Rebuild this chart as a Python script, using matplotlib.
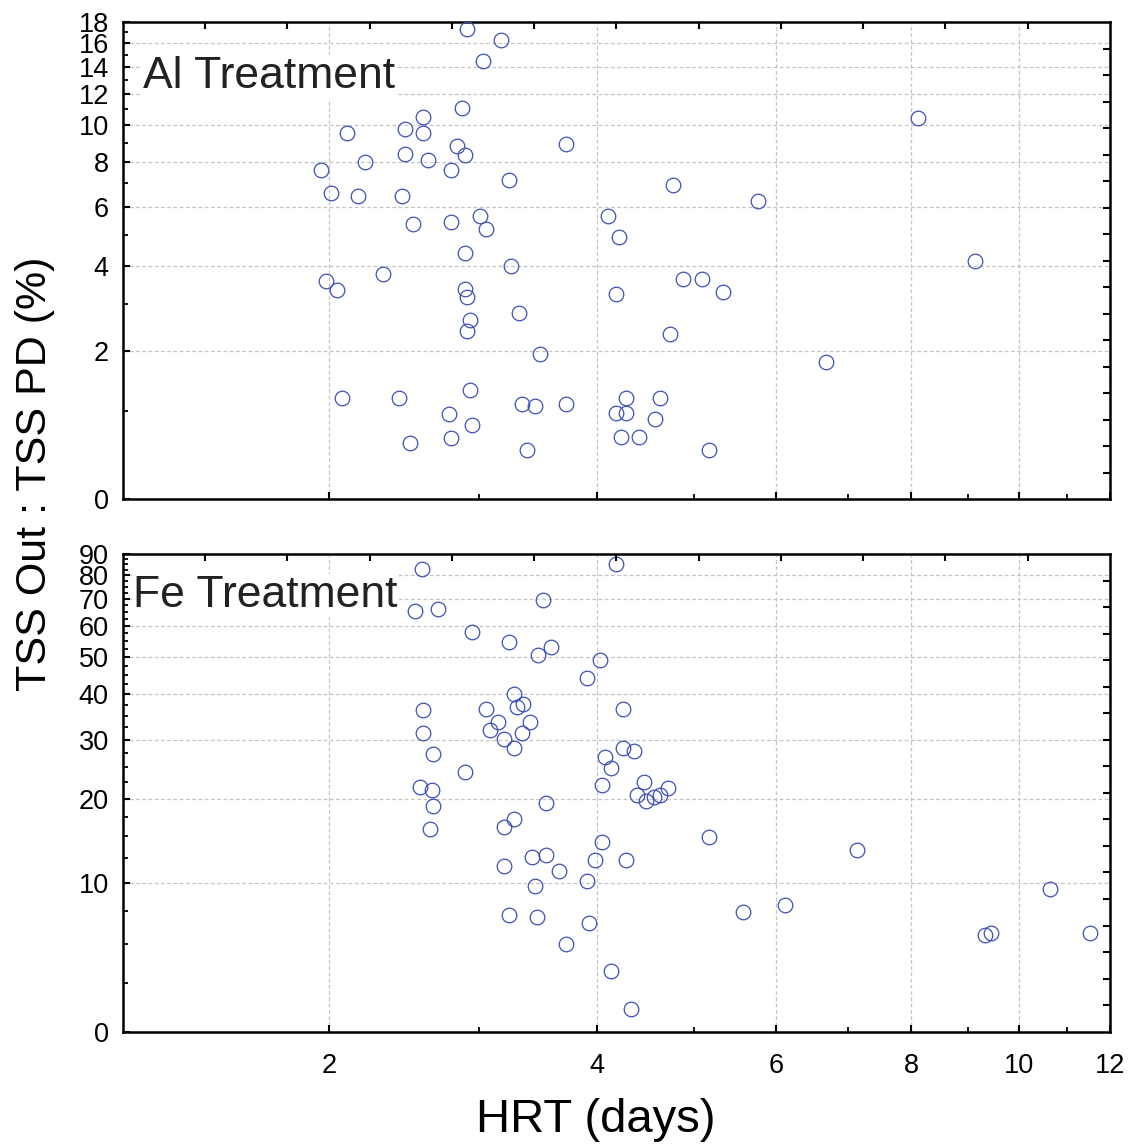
import numpy as np
import matplotlib
matplotlib.use("Agg")
import matplotlib.pyplot as plt

plt.rcParams['font.family'] = ['Liberation Sans', 'DejaVu Sans']

# --- Al treatment: HRT (days) vs TSS Out : TSS PD (%) ---
al_hrt = [2.913, 3.172, 3.030, 2.871, 2.593, 2.469, 2.593, 2.108, 3.717, 2.832,
          2.891, 2.469, 2.630, 2.218, 2.795, 1.954, 3.231, 2.013, 2.171, 2.453,
          4.107, 3.009, 2.525, 2.795, 3.050, 4.210, 2.891, 3.255, 2.331, 1.983,
          2.047, 2.891, 2.911, 3.318, 2.931, 2.911, 3.493, 4.184, 4.887, 5.094,
          5.334, 4.745, 2.075, 2.435, 2.931, 2.779, 2.950, 2.795, 2.505, 3.340,
          3.448, 3.717, 3.381, 4.286, 4.635, 4.184, 4.286, 4.582, 4.233, 4.417,
          5.181, 4.774, 5.771, 6.686, 8.119, 9.135]
al_ratio = [17.30, 16.27, 14.49, 11.08, 10.47, 9.79, 9.54, 9.53, 8.93, 8.81,
            8.37, 8.41, 8.12, 8.00, 7.63, 7.63, 7.16, 6.58, 6.46, 6.46,
            5.66, 5.66, 5.37, 5.45, 5.19, 4.94, 4.40, 4.01, 3.79, 3.58,
            3.36, 3.37, 3.17, 2.80, 2.63, 2.40, 1.93, 3.24, 3.65, 3.65,
            3.29, 2.34, 1.19, 1.19, 1.31, 0.96, 0.82, 0.65, 0.59, 1.11,
            1.07, 1.11, 0.50, 1.19, 1.19, 0.97, 0.97, 0.90, 0.66, 0.66,
            0.50, 6.93, 6.26, 1.79, 10.43, 4.16]

# --- Fe treatment ---
fe_hrt = [2.590, 4.184, 2.541, 2.702, 3.516, 2.948, 3.234, 3.474, 3.585, 4.033,
          3.911, 3.277, 3.299, 3.348, 2.593, 3.050, 4.256, 3.151, 3.406, 3.088,
          3.340, 2.593, 3.194, 3.277, 2.663, 4.081, 4.256, 4.363, 4.132, 2.894,
          2.575, 2.656, 4.055, 4.471, 4.720, 4.397, 4.489, 4.575, 4.635, 2.663,
          3.539, 3.277, 3.194, 2.646, 4.055, 3.428, 3.539, 3.983, 4.283, 3.191,
          3.652, 3.908, 3.451, 3.231, 3.468, 3.932, 3.720, 4.132, 4.339,
          5.178, 5.584, 6.121, 7.143, 9.325, 9.440, 10.643, 11.534]
fe_ratio = [82.9, 85.3, 65.4, 66.3, 69.4, 58.1, 54.7, 50.6, 53.0, 49.1,
            44.1, 40.1, 37.0, 37.7, 36.3, 36.4, 36.4, 33.6, 33.5, 31.9,
            31.4, 31.4, 30.2, 28.3, 27.3, 26.8, 28.3, 27.8, 24.9, 24.1,
            21.7, 21.3, 22.0, 22.5, 21.6, 20.5, 19.7, 20.2, 20.5, 19.0,
            19.4, 17.2, 16.2, 15.9, 14.3, 12.6, 12.8, 12.3, 12.3, 11.7,
            11.2, 10.2, 9.7, 7.2, 7.0, 6.5, 5.0, 3.2, 1.1,
            14.9, 7.4, 8.0, 13.4, 5.6, 5.8, 9.4, 5.8]

x_major = [2, 4, 6, 8, 10, 12]
x_minor = [3, 5, 7, 9, 11]
al_major = list(range(0, 19, 2))
al_minor = list(range(1, 18, 2))
fe_major = list(range(0, 91, 10))
fe_minor = [v for v in np.arange(2.5, 90, 2.5) if v % 10 != 0]

marker_color = '#3d50b6'
grid_color = '#c4c4c4'


def offset_log(c):
    return (lambda v: np.log(np.clip(np.asarray(v) + c, 1e-9, None)),
            lambda t: np.exp(t) - c)


fig = plt.figure(figsize=(11.33, 11.48), dpi=100)
ax1 = fig.add_axes([0.1083, 0.5651, 0.8714, 0.4157])
ax2 = fig.add_axes([0.1083, 0.1013, 0.8714, 0.4161], sharex=ax1)

panels = [
    (ax1, al_hrt, al_ratio, 1.8, 18, al_major, al_minor, 'Al Treatment', 0.0206, 0.861),
    (ax2, fe_hrt, fe_ratio, 9.0, 90, fe_major, fe_minor, 'Fe Treatment', 0.0104, 0.889),
]

for ax, xs, ys, c, ytop, ymaj, ymin, label, tx, ty in panels:
    ax.set_xscale('function', functions=offset_log(1.2))
    ax.set_yscale('function', functions=offset_log(c))
    ax.set_xlim(1, 12)
    ax.set_ylim(0, ytop)
    ax.set_xticks(x_major)
    ax.set_xticks(x_minor, minor=True)
    ax.set_yticks(ymaj)
    ax.set_yticks(ymin, minor=True)
    ax.set_xticklabels([str(v) for v in x_major])
    ax.set_yticklabels([str(v) for v in ymaj])
    ax.grid(True, which='major', color=grid_color, linestyle=(0, (3, 2)), linewidth=0.9)
    ax.set_axisbelow(True)
    ax.tick_params(which='major', direction='in', length=5, width=1.5,
                   labelsize=19.5, pad=10, top=False, right=False)
    ax.tick_params(which='minor', direction='in', length=3.5, width=1.3,
                   top=False, right=False)
    ax.tick_params(axis='x', which='major', pad=15)
    for sp in ax.spines.values():
        sp.set_linewidth(1.8)
    ax.plot(xs, ys, 'o', mfc='none', mec=marker_color, ms=10.5, mew=0.9, zorder=3)
    ax.text(tx, ty, label, transform=ax.transAxes, fontsize=32, color='#222222',
            ha='left', va='baseline', zorder=4,
            bbox=dict(facecolor='white', edgecolor='none', pad=1))

    # evenly spaced ticks on the top and right frame
    ov = fig.add_axes(ax.get_position(), frameon=False)
    ov.set_xlim(0, 12)
    ov.set_ylim(0, 18)
    ov.xaxis.tick_top()
    ov.yaxis.tick_right()
    ov.set_xticks(range(1, 12))
    ov.set_yticks(range(1, 18))
    ov.tick_params(direction='in', length=5, width=1.5, labeltop=False, labelright=False)
    ov.patch.set_visible(False)

ax1.tick_params(labelbottom=False)

fig.text(0.031, 0.587, 'TSS Out : TSS PD (%)', rotation=90, ha='center', va='center',
         fontsize=31)
fig.text(0.526, 0.0244, 'HRT (days)', ha='center', va='center', fontsize=34)

fig.savefig('out.png', dpi=100)
